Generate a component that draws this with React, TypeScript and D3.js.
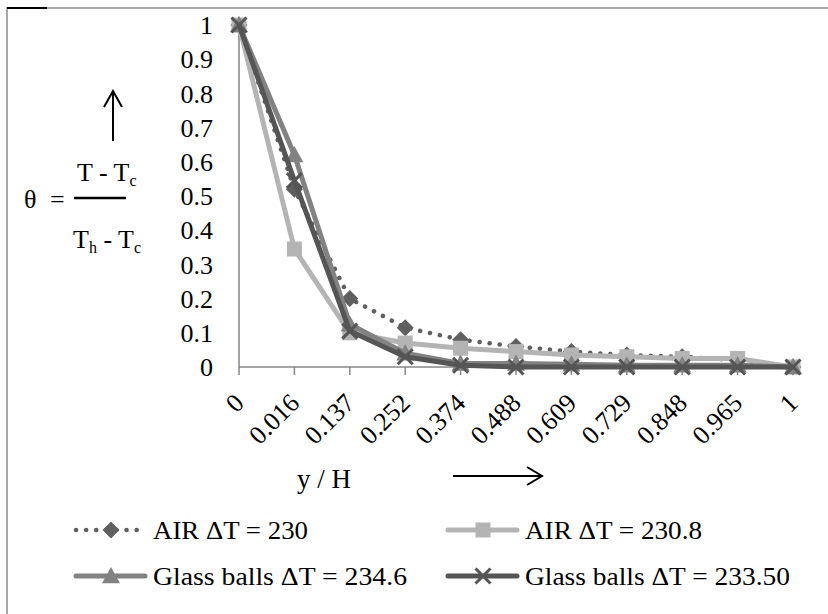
import React from "react";
import * as d3 from "d3";

const categories = ["0", "0.016", "0.137", "0.252", "0.374", "0.488", "0.609", "0.729", "0.848", "0.965", "1"];
const air230 = [1, 0.52, 0.2, 0.115, 0.08, 0.06, 0.045, 0.035, 0.03, 0.02, 0];
const air2308 = [1, 0.345, 0.1, 0.07, 0.055, 0.045, 0.035, 0.03, 0.025, 0.025, 0];
const glass2346 = [1, 0.62, 0.125, 0.04, 0.01, 0.01, 0.008, 0.005, 0.005, 0.005, 0];
const glass2335 = [1, 0.545, 0.105, 0.03, 0.005, 0, 0, 0, 0, 0, 0];
const yTicks = [0, 0.1, 0.2, 0.3, 0.4, 0.5, 0.6, 0.7, 0.8, 0.9, 1];
const seriesNames = ["AIR ΔT = 230", "AIR ΔT = 230.8", "Glass balls ΔT = 234.6", "Glass balls ΔT = 233.50"];

const W = 828;
const H = 614;
const FONT = '"Liberation Serif", "Times New Roman", serif';

type Series = { name: string; values: number[]; color: string; width: number; dash?: string; marker: string; mcolor: string };

const series: Series[] = [
  { name: seriesNames[0], values: air230, color: "#5f5f5f", width: 4.5, dash: "0.1 10", marker: "diamond", mcolor: "#5f5f5f" },
  { name: seriesNames[1], values: air2308, color: "#b4b4b4", width: 5, marker: "square", mcolor: "#b4b4b4" },
  { name: seriesNames[2], values: glass2346, color: "#828282", width: 5, marker: "triangle", mcolor: "#828282" },
  { name: seriesNames[3], values: glass2335, color: "#555555", width: 5, marker: "x", mcolor: "#555555" },
];

function Marker({ type, cx, cy, color }: { type: string; cx: number; cy: number; color: string }) {
  if (type === "diamond") {
    const r = 8.5;
    return <path d={`M${cx},${cy - r}L${cx + r},${cy}L${cx},${cy + r}L${cx - r},${cy}Z`} fill={color} />;
  }
  if (type === "square") {
    const s = 15;
    return <rect x={cx - s / 2} y={cy - s / 2} width={s} height={s} fill={color} />;
  }
  if (type === "triangle") {
    const r = 9;
    return <path d={`M${cx},${cy - r}L${cx + r},${cy + r * 0.8}L${cx - r},${cy + r * 0.8}Z`} fill={color} />;
  }
  const r = 7.5;
  return (
    <path
      d={`M${cx - r},${cy - r}L${cx + r},${cy + r}M${cx - r},${cy + r}L${cx + r},${cy - r}`}
      stroke={color}
      strokeWidth={3}
      fill="none"
    />
  );
}

export default function App() {
  const x = d3.scalePoint<string>().domain(categories).range([239, 793]);
  const y = d3.scaleLinear().domain([0, 1]).range([367, 25]);
  const line = d3
    .line<number>()
    .x((_, i) => x(categories[i]) as number)
    .y((d) => y(d));

  const legendPos = [
    { lx: 76, ly: 530, tx: 153, tw: 155 },
    { lx: 448, ly: 530, tx: 525, tw: 177 },
    { lx: 76, ly: 576, tx: 153, tw: 254 },
    { lx: 448, ly: 576, tx: 525, tw: 265 },
  ];

  return (
    <svg
      width={W}
      height={H}
      fontFamily={FONT}
      style={{ position: "absolute", left: 0, top: 0, background: "#fff", fontFamily: FONT }}
    >
      <rect x={0} y={0} width={W} height={H} fill="#fff" />
      {/* chart border */}
      <path d={`M7,${H + 5}L7,8L${W + 5},8`} fill="none" stroke="#8c8c8c" strokeWidth={1.5} />
      <path d="M7,8L47,8" stroke="#000" strokeWidth={2} />

      {/* axes */}
      <line x1={239} x2={239} y1={y(1)} y2={y(0)} stroke="#868686" strokeWidth={1.5} />
      <line x1={239} x2={797} y1={y(0)} y2={y(0)} stroke="#868686" strokeWidth={1.5} />
      {categories.map((c) => (
        <line key={"t" + c} x1={x(c)} x2={x(c)} y1={y(0)} y2={y(0) + 8} stroke="#868686" strokeWidth={1.5} />
      ))}
      {yTicks.map((t) => (
        <text key={"y" + t} x={213} y={y(t)} dy="0.35em" textAnchor="end" fontSize={26} fill="#000">
          {d3.format("~g")(t)}
        </text>
      ))}
      {categories.map((c) => (
        <text
          key={"x" + c}
          transform={`translate(${x(c) as number},${y(0) + 31}) rotate(-45)`}
          textAnchor="end"
          dy="0.35em"
          fontSize={26}
          fill="#000"
        >
          {c}
        </text>
      ))}

      {/* series */}
      {series.map((s) => (
        <g key={s.name}>
          <path
            d={line(s.values) || ""}
            fill="none"
            stroke={s.color}
            strokeWidth={s.width}
            strokeDasharray={s.dash}
            strokeLinecap={s.dash ? "round" : "butt"}
            strokeLinejoin="round"
          />
          {s.values.map((v, i) => (
            <Marker key={i} type={s.marker} cx={x(categories[i]) as number} cy={y(v)} color={s.mcolor} />
          ))}
        </g>
      ))}

      {/* y label formula */}
      <text x={24} y={208} fontSize={26}>θ</text>
      <text x={50} y={208} fontSize={26}>=</text>
      <line x1={74} x2={126} y1={198} y2={198} stroke="#000" strokeWidth={2.5} />
      <text x={77} y={181} fontSize={26}>
        T - T<tspan fontSize={16} dy={5}>c</tspan>
      </text>
      <text x={73} y={248} fontSize={26}>
        T<tspan fontSize={16} dy={5}>h</tspan>
        <tspan dy={-5} fontSize={26}> - T</tspan>
        <tspan fontSize={16} dy={5}>c</tspan>
      </text>
      <line x1={113} x2={113} y1={141} y2={92} stroke="#000" strokeWidth={2} />
      <path d="M104,107L113,91L122,107" fill="none" stroke="#000" strokeWidth={2} />

      {/* x label */}
      <text x={297} y={488} fontSize={27}>y / H</text>
      <line x1={453} x2={541} y1={476} y2={476} stroke="#000" strokeWidth={2} />
      <path d="M527,467L542,476L527,485" fill="none" stroke="#000" strokeWidth={2} />

      {/* legend */}
      {series.map((s, i) => {
        const p = legendPos[i];
        return (
          <g key={"lg" + i}>
            <line
              x1={p.lx}
              x2={p.lx + 69}
              y1={p.ly}
              y2={p.ly}
              stroke={s.color}
              strokeWidth={s.width}
              strokeDasharray={s.dash}
              strokeLinecap="round"
            />
            <Marker type={s.marker} cx={p.lx + 35} cy={p.ly} color={s.mcolor} />
            <text
              x={p.tx}
              y={p.ly}
              dy="0.35em"
              fontSize={26}
              textLength={p.tw}
              lengthAdjust="spacingAndGlyphs"
            >
              {s.name}
            </text>
          </g>
        );
      })}
    </svg>
  );
}
